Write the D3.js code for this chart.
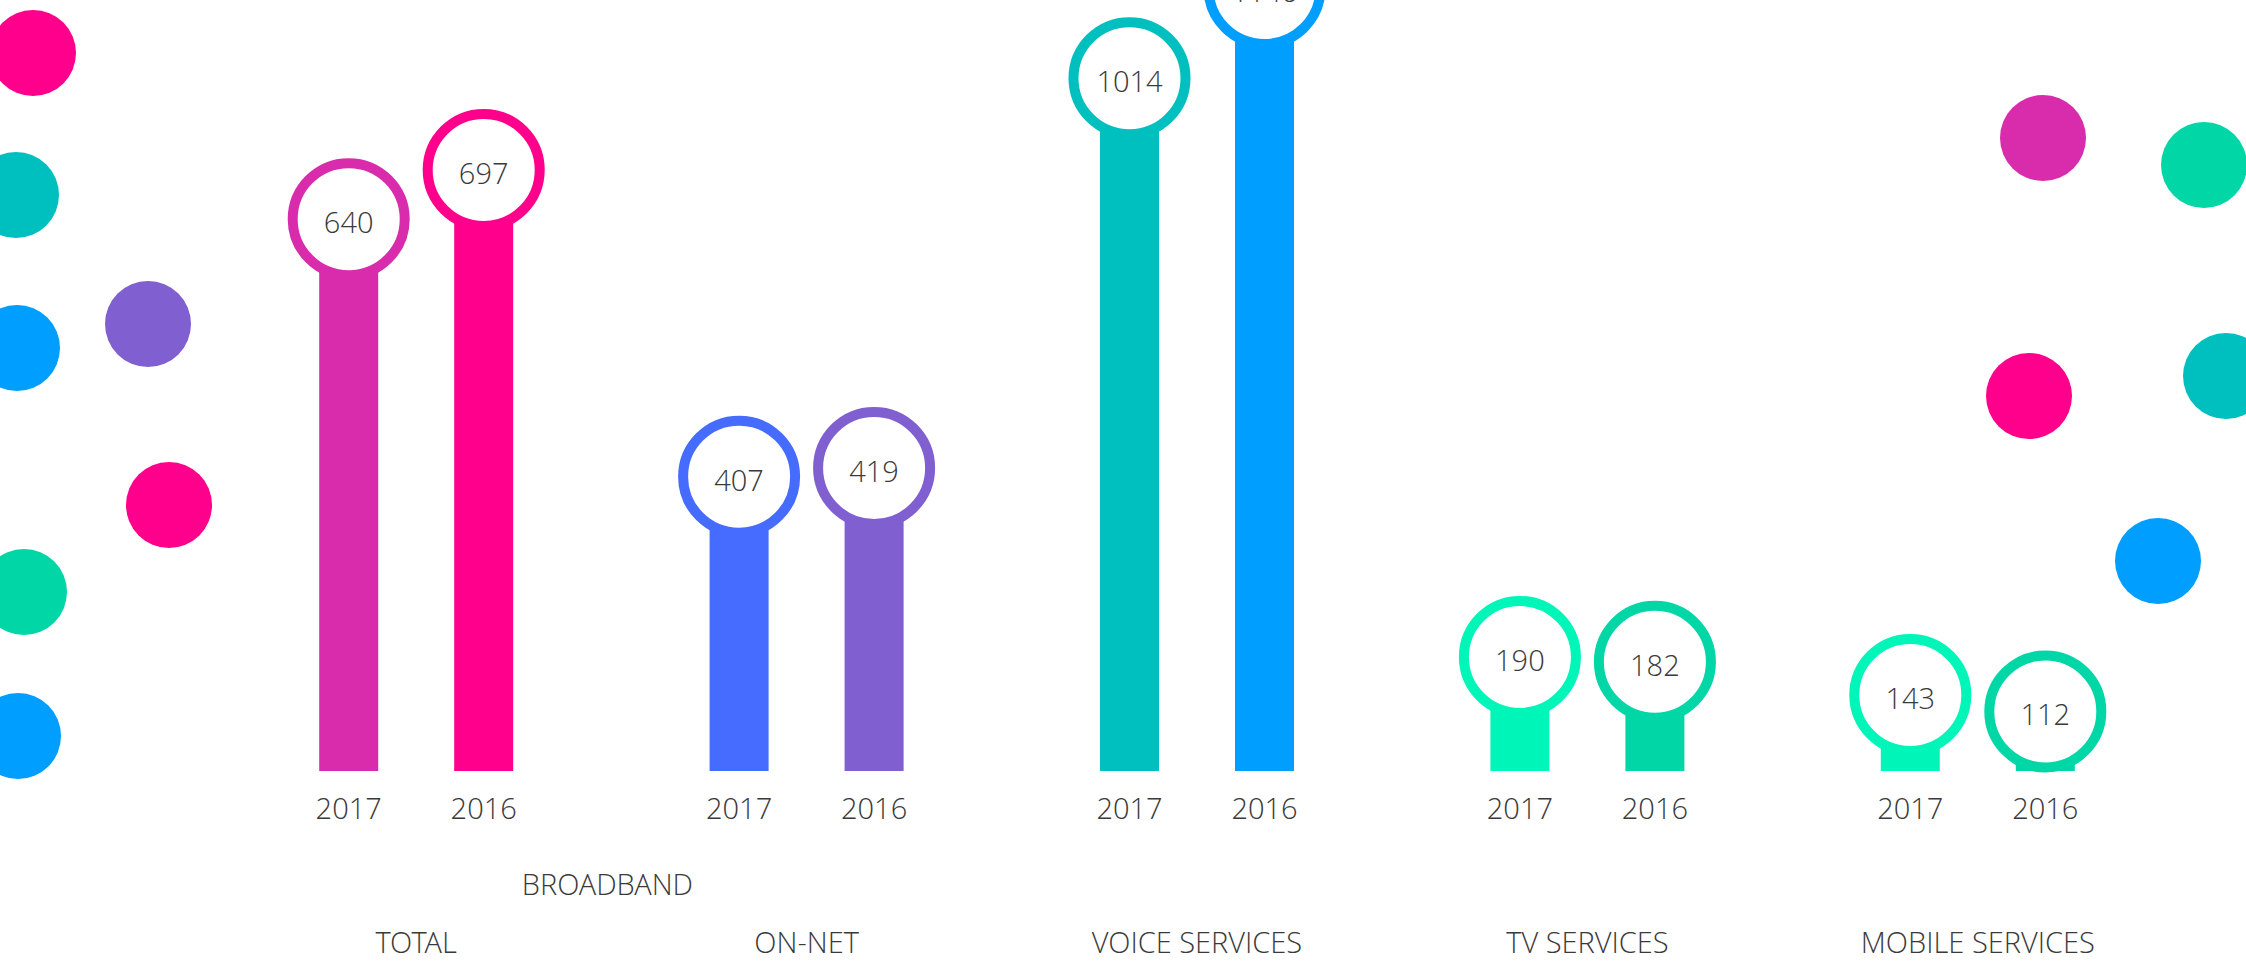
<!DOCTYPE html>
<html>
<head>
<meta charset="utf-8">
<script src="https://cdn.jsdelivr.net/npm/d3@7"></script>
<style>
  body { margin: 0; background: #fff; }
  text { font-family: "Segoe UI Light", "Open Sans Light", "Open Sans", sans-serif; font-weight: 300; fill: #3a3a3a; }
</style>
</head>
<body>
<div id="chart"></div>
<script>
// data
var categories = ["TOTAL", "ON-NET", "VOICE SERVICES", "TV SERVICES", "MOBILE SERVICES"];
var years = ["2017", "2016"];
var values2017 = [640, 407, 1014, 190, 143];
var values2016 = [697, 419, 1146, 182, 112];
var superGroup = "BROADBAND";
var superMembers = ["TOTAL", "ON-NET"];

// styling / layout
var colors2017 = ["#D92CAC", "#456CFF", "#00BFBF", "#00F5B9", "#00F5B9"];
var colors2016 = ["#FF008C", "#805FD0", "#009EFF", "#00D6A6", "#00D6A6"];
// every pair is drawn on its own scale: pixel height of the taller bar
var groupHeight = [601, 303, 783, 114, 76];

var width = 2246, height = 961;
var baseline = 771;
var barWidth = 59;
var ringR = 56;

// decoration dots at both sides
var dots = [
  {x: 33, y: 53, c: "#FF008C"}, {x: 16, y: 195, c: "#00BFBF"}, {x: 17, y: 348, c: "#009EFF"},
  {x: 148, y: 324, c: "#805FD0"}, {x: 169, y: 505, c: "#FF008C"}, {x: 24, y: 592, c: "#00D6A6"},
  {x: 18, y: 736, c: "#009EFF"},
  {x: 2043, y: 138, c: "#D92CAC"}, {x: 2204, y: 165, c: "#00D6A6"}, {x: 2029, y: 396, c: "#FF008C"},
  {x: 2226, y: 376, c: "#00BFBF"}, {x: 2158, y: 561, c: "#009EFF"}
];

var svg = d3.select("#chart")
  .append("svg")
    .attr("width", width)
    .attr("height", height);

svg.selectAll(".dot")
  .data(dots)
  .enter().append("circle")
    .attr("class", "dot")
    .attr("cx", function(d) { return d.x; })
    .attr("cy", function(d) { return d.y; })
    .attr("r", 43)
    .attr("fill", function(d) { return d.c; });

var x = d3.scaleBand().domain(categories).range([221, 2173]);
var xYear = d3.scalePoint().domain(years).range([-67.5, 67.5]);

var yScales = categories.map(function(c, i) {
  return d3.scaleLinear()
    .domain([0, Math.max(values2017[i], values2016[i])])
    .range([baseline, baseline - groupHeight[i]]);
});

var rows = [];
categories.forEach(function(c, i) {
  rows.push({cat: c, i: i, year: "2017", value: values2017[i], color: colors2017[i]});
  rows.push({cat: c, i: i, year: "2016", value: values2016[i], color: colors2016[i]});
});

function cx(d) { return x(d.cat) + x.bandwidth() / 2 + xYear(d.year); }
function cy(d) { return yScales[d.i](d.value); }

svg.selectAll(".bar")
  .data(rows)
  .enter().append("rect")
    .attr("class", "bar")
    .attr("x", function(d) { return cx(d) - barWidth / 2; })
    .attr("y", cy)
    .attr("width", barWidth)
    .attr("height", function(d) { return baseline - cy(d); })
    .attr("fill", function(d) { return d.color; });

svg.selectAll(".ring")
  .data(rows)
  .enter().append("circle")
    .attr("class", "ring")
    .attr("cx", cx)
    .attr("cy", cy)
    .attr("r", ringR)
    .attr("fill", "#fff")
    .attr("stroke", function(d) { return d.color; })
    .attr("stroke-width", 10);

svg.selectAll(".value")
  .data(rows)
  .enter().append("text")
    .attr("class", "value")
    .attr("x", cx)
    .attr("y", function(d) { return cy(d) + 14; })
    .attr("text-anchor", "middle")
    .style("font-size", "29px")
    .text(function(d) { return d.value; });

svg.selectAll(".year")
  .data(rows)
  .enter().append("text")
    .attr("class", "year")
    .attr("x", cx)
    .attr("y", 819)
    .attr("text-anchor", "middle")
    .style("font-size", "29px")
    .text(function(d) { return d.year; });

svg.selectAll(".cat")
  .data(categories)
  .enter().append("text")
    .attr("class", "cat")
    .attr("x", function(d) { return x(d) + x.bandwidth() / 2; })
    .attr("y", 953)
    .attr("text-anchor", "middle")
    .style("font-size", "29px")
    .text(function(d) { return d; });

var superX = d3.mean(superMembers, function(d) { return x(d) + x.bandwidth() / 2; });
svg.append("text")
  .attr("x", superX - 4)
  .attr("y", 895)
  .attr("text-anchor", "middle")
  .style("font-size", "29px")
  .text(superGroup);
</script>
</body>
</html>
